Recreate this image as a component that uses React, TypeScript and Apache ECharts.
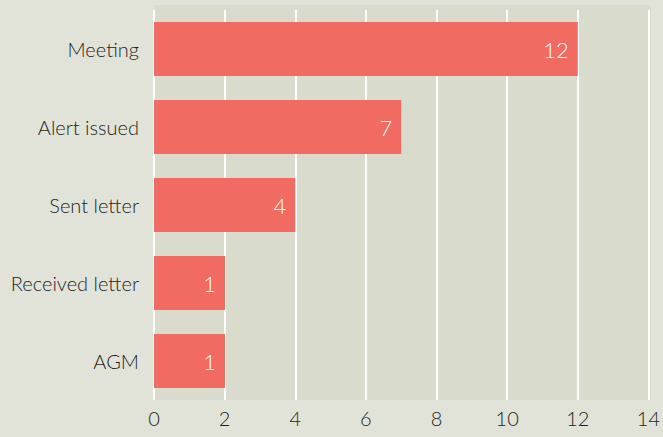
import React, { useEffect, useRef } from "react";
import * as echarts from "echarts";

const categories = ["Meeting", "Alert issued", "Sent letter", "Received letter", "AGM"];
const counts = [12, 7, 4, 1, 1];
const xTicks = { min: 0, max: 14, interval: 2 };

export default function App() {
  const ref = useRef<HTMLDivElement>(null);
  useEffect(() => {
    const chart = echarts.init(ref.current!, null, { renderer: "svg" });
    chart.setOption({
      animation: false,
      backgroundColor: "#e1e3d9",
      textStyle: { fontFamily: "Lato" },
      graphic: [
        {
          type: "rect",
          z: -10,
          silent: true,
          shape: { x: 154, y: 5, width: 497, height: 395 },
          style: { fill: "#d9dccd" },
        },
      ],
      grid: {
        left: 154,
        right: 12,
        top: 10,
        bottom: 37,
        show: false,
      },
      xAxis: {
        type: "value",
        min: xTicks.min,
        max: xTicks.max,
        interval: xTicks.interval,
        axisLine: { show: false },
        axisTick: { show: false },
        splitLine: { show: true, lineStyle: { color: "#ffffff", width: 2 } },
        axisLabel: { color: "#1e1e1e", fontSize: 20, fontWeight: 300, margin: 8, fontFamily: "Lato" },
      },
      yAxis: {
        type: "category",
        data: categories,
        inverse: true,
        axisLine: { show: false },
        axisTick: { show: false },
        axisLabel: { color: "#1e1e1e", fontSize: 20, fontWeight: 300, margin: 15, fontFamily: "Lato" },
      },
      series: [
        {
          type: "bar",
          data: counts,
          barCategoryGap: "31%",
          barMinHeight: 71,
          itemStyle: { color: "#f26b63" },
          label: {
            show: true,
            position: "insideRight",
            distance: 9,
            color: "#ffffff",
            fontSize: 22,
            fontWeight: 300,
            fontFamily: "Lato",
          },
        },
      ],
    });
    return () => chart.dispose();
  }, []);
  return <div ref={ref} style={{ width: 663, height: 437, position: "absolute", left: 0, top: 0 }} />;
}
